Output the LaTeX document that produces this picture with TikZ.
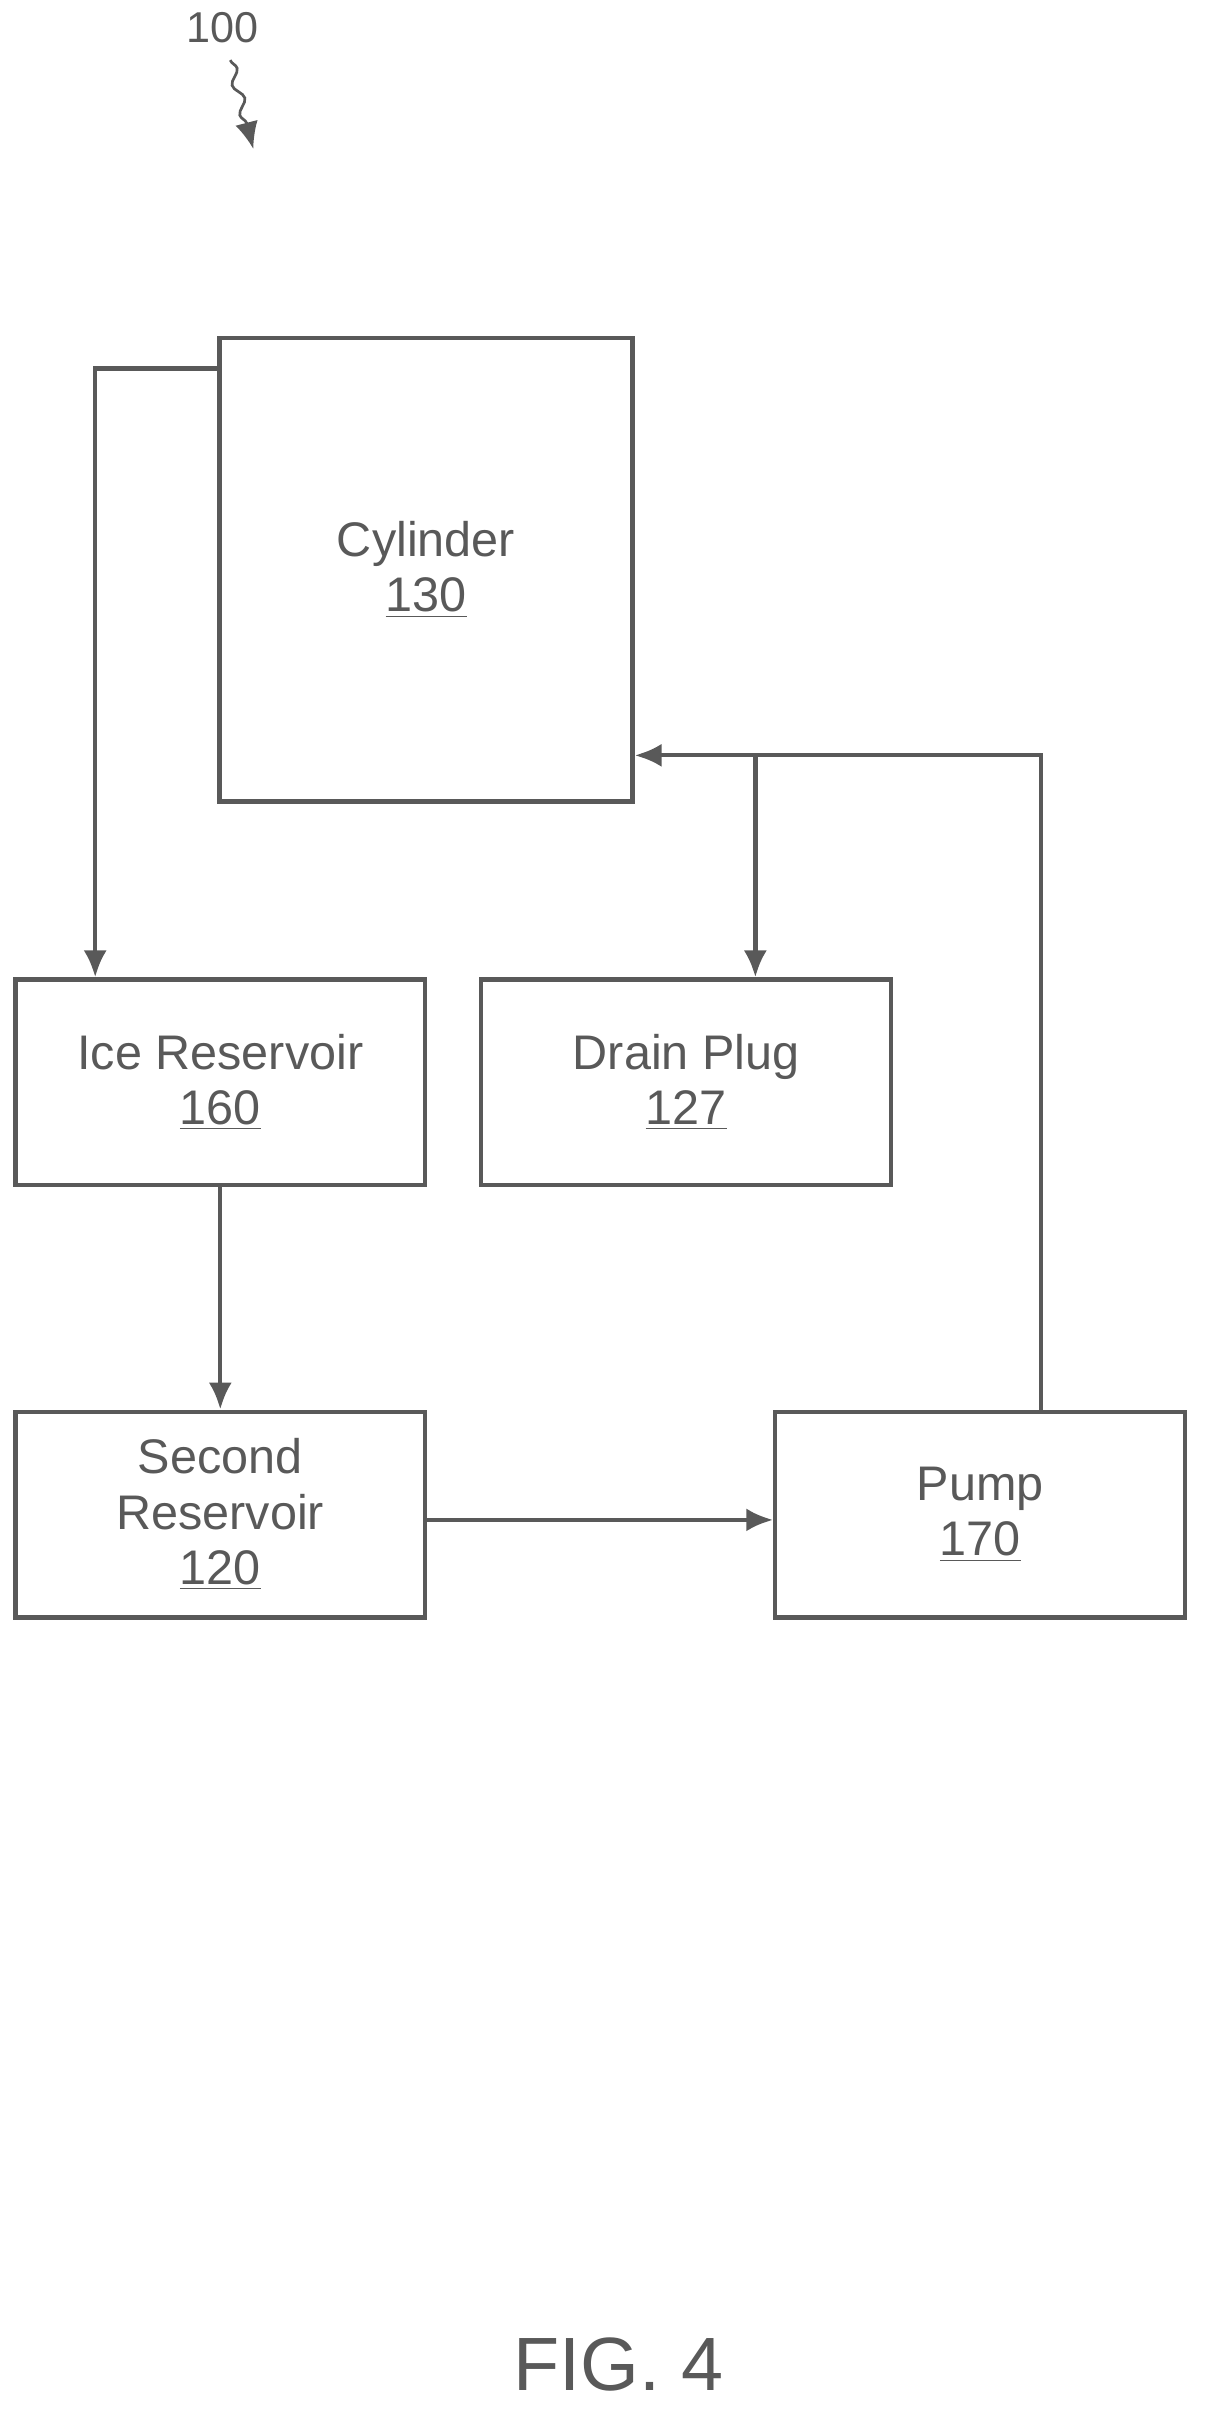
\documentclass[tikz,border=0pt]{standalone}
\usepackage{fontspec}
\setmainfont{Liberation Sans}
\usetikzlibrary{arrows.meta, decorations.pathmorphing}
\definecolor{ink}{gray}{0.35}
\tikzstyle{every node}=[font=\fontsize{16}{20.5}\selectfont, text=ink]
\tikzstyle{block} = [rectangle, draw=ink, line width=1.6pt, align=center, font=\fontsize{18}{20.5}\selectfont, minimum width=5.34cm, minimum height=2.68cm, inner sep=0pt]
\tikzstyle{line} = [draw=ink, line width=1.6pt, -{Latex[length=3.5mm, width=3mm]}]

\begin{document}
\begin{tikzpicture}
    \useasboundingbox (0,0) rectangle (15.8,-31.5);
    % Place nodes
    \node [block, minimum width=5.38cm, minimum height=6.04cm] (cyl) at (5.55,-7.42) {Cylinder\\\underline{130}};
    \node [block] (ice) at (2.87,-14.1) {Ice Reservoir\\\underline{160}};
    \node [block] (drain) at (8.94,-14.1) {Drain Plug\\\underline{127}};
    \node [block] (second) at (2.87,-19.73) {Second\\Reservoir\\\underline{120}};
    \node [block] (pump) at (12.77,-19.73) {Pump\\\underline{170}};
    \node (ref) at (2.9,-0.36) {100};
    \node [font=\fontsize{28}{32}\selectfont] (fig) at (8.06,-30.8) {FIG. 4};
    \coordinate (c1) at (1.24,-4.8);
    \coordinate (c2) at (13.56,-9.84);
    \coordinate (c3) at (9.84,-9.84);
    % Draw edges
    \path [line] (cyl.west |- c1) -- (c1) -- (ice.north -| c1);
    \path [line] (pump.north -| c2) -- (c2) -- (cyl.east |- c2);
    \path [line] (c3) -- (drain.north -| c3);
    \path [line] (ice) -- (second);
    \path [line] (second.east |- 0,-19.8) -- (pump.west |- 0,-19.8);
    \path [line, line width=1pt, decorate, decoration={snake, amplitude=0.6mm, segment length=4mm, post length=3mm}] (ref.south) ++(0.1,-0.1) -- (3.3,-1.94);
\end{tikzpicture}
\end{document}
